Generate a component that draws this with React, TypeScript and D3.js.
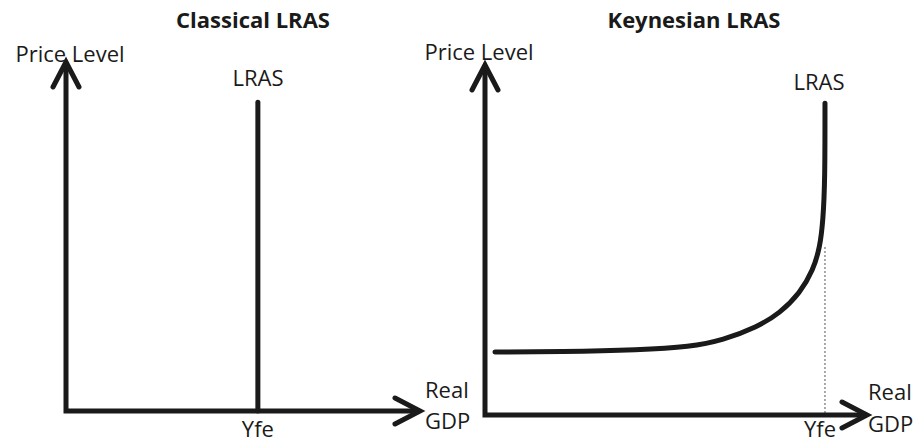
import React, { useEffect } from 'react';
import * as d3 from 'd3';

// panel titles and labels
const titles = ['Classical LRAS', 'Keynesian LRAS'];
const yAxisLabel = 'Price Level';
const xAxisLabel = ['Real', 'GDP'];
const curveLabel = 'LRAS';
const fullEmploymentLabel = 'Yfe';

// values in a 0..100 space on both axes
const classicalYfe = 54.2;
const classicalTop = 88.5;

const keynesianYfe = 89;
const keynesianCurve: [number, number][] = [
  [2.6, 18],
  [19.6, 18.1],
  [40.6, 18.6],
  [53.7, 19.5],
  [62.3, 21.4],
  [71.2, 25.1],
  [77.2, 29.1],
  [82.5, 34.9],
  [85.9, 41.4],
  [87.7, 48],
  [88.5, 55.7],
  [89, 67.1],
  [89, 89.1],
];

const ink = '#1a1a1a';
const font = '"Open Sans", sans-serif';
const size = 22;

// where each panel sits on the page
const layouts = [
  {
    x0: 66, x1: 420, y0: 411, y1: 62,
    titleX: 253, yLabelX: 70, yLabelY: 62,
    curveLabelX: 258, curveLabelY: 86,
    realX: 425, realY: 398, gdpY: 429, yfeY: 437,
  },
  {
    x0: 485, x1: 867, y0: 415, y1: 65,
    titleX: 694, yLabelX: 479, yLabelY: 60,
    curveLabelX: 819, curveLabelY: 90,
    realX: 868, realY: 400, gdpY: 432, yfeY: 437,
  },
];

const Panel = ({ index }: { index: number }) => {
  const l = layouts[index];
  const x = d3.scaleLinear().domain([0, 100]).range([l.x0, l.x1]);
  const y = d3.scaleLinear().domain([0, 100]).range([l.y0, l.y1]);

  const head = 25;
  const half = 13;
  const axes = d3.path();
  axes.moveTo(x(0), y(100));
  axes.lineTo(x(0), y(0));
  axes.lineTo(x(100), y(0));
  const arrows = d3.path();
  arrows.moveTo(x(0) - half, y(100) + head);
  arrows.lineTo(x(0), y(100));
  arrows.lineTo(x(0) + half, y(100) + head);
  arrows.moveTo(x(100) - head, y(0) - half);
  arrows.lineTo(x(100), y(0));
  arrows.lineTo(x(100) - head, y(0) + half);

  const line = d3.line<[number, number]>()
    .x(d => x(d[0]))
    .y(d => y(d[1]))
    .curve(d3.curveBasis);

  const yfe = index === 0 ? classicalYfe : keynesianYfe;
  const curvePath = index === 0
    ? line([[classicalYfe, 0], [classicalYfe, classicalTop]])
    : line(keynesianCurve);

  return (
    <g>
      <text x={l.titleX} y={28} textAnchor="middle" fontWeight="bold" fontSize={size} fill={ink}>
        {titles[index]}
      </text>
      <text x={l.yLabelX} y={l.yLabelY} textAnchor="middle" fontSize={size} fill={ink}>{yAxisLabel}</text>
      {index === 1 && (
        <line x1={x(yfe)} x2={x(yfe)} y1={y(48)} y2={y(0)} stroke="#555" strokeWidth={1} strokeDasharray="2,2" />
      )}
      <path d={curvePath || ''} fill="none" stroke={ink} strokeWidth={5} strokeLinecap="round" />
      <path d={axes.toString()} fill="none" stroke={ink} strokeWidth={5} strokeLinejoin="miter" />
      <path d={arrows.toString()} fill="none" stroke={ink} strokeWidth={5} strokeLinecap="round" strokeLinejoin="miter" />
      <text x={l.curveLabelX} y={l.curveLabelY} textAnchor="middle" fontSize={size} fill={ink}>{curveLabel}</text>
      <text x={x(yfe) - (index === 1 ? 5 : 0)} y={l.yfeY} textAnchor="middle" fontSize={size} fill={ink}>{fullEmploymentLabel}</text>
      <text x={l.realX} y={l.realY} fontSize={size} fill={ink}>{xAxisLabel[0]}</text>
      <text x={l.realX} y={l.gdpY} fontSize={size} fill={ink}>{xAxisLabel[1]}</text>
    </g>
  );
};

export default function App() {
  useEffect(() => {
    document.body.style.margin = '0';
  }, []);
  return (
    <svg width={915} height={444} style={{ display: 'block', background: '#fff', fontFamily: font }}>
      {titles.map((_, i) => <Panel key={i} index={i} />)}
    </svg>
  );
}
